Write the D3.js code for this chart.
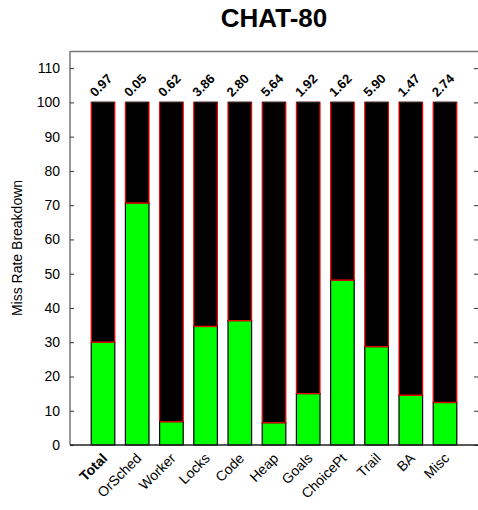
<!DOCTYPE html>
<html>
<head>
<meta charset="utf-8">
<script src="https://cdn.jsdelivr.net/npm/d3@7"></script>
<style>
body{margin:0;background:#fff;}
svg{display:block;font-family:Arial,"Liberation Sans",Helvetica,sans-serif;}
</style>
</head>
<body>
<svg id="c" width="478" height="510"></svg>
<script>
const categories = ["Total","OrSched","Worker","Locks","Code","Heap","Goals","ChoicePt","Trail","BA","Misc"];
const greenValues = [30.0,70.6,6.8,34.6,36.3,6.5,15.0,48.1,28.7,14.5,12.4];
const topLabels = ["0.97","0.05","0.62","3.86","2.80","5.64","1.92","1.62","5.90","1.47","2.74"];
const yTicks = [0,10,20,30,40,50,60,70,80,90,100,110];
const title = "CHAT-80";
const yLabel = "Miss Rate Breakdown";

(function(){
const svg = d3.select("#c");
const pL = 70, pR = 478, pT = 51, pB = 445;

const x = d3.scaleBand().domain(categories).range([pL, pR]).paddingInner(0.31).paddingOuter(0.62);
const y = d3.scaleLinear().domain([0, 115]).range([pB, pT]);

// frame
svg.append("line").attr("x1",pL).attr("x2",pR).attr("y1",pT+0.5).attr("y2",pT+0.5).attr("stroke","#777").attr("stroke-width",1.5);
svg.append("line").attr("x1",pL).attr("x2",pL).attr("y1",pT).attr("y2",pB).attr("stroke","#777").attr("stroke-width",1.5);

// left axis
const yAxis = d3.axisLeft(y).tickValues(yTicks).tickSize(-4).tickPadding(10);
const ga = svg.append("g").attr("transform",`translate(${pL},0)`).call(yAxis);
ga.select(".domain").remove();
ga.selectAll(".tick line").attr("stroke","#333");
ga.selectAll(".tick text").attr("font-size",14).attr("fill","#000").attr("font-family","Arial, Liberation Sans, sans-serif");

// right ticks
const gr = svg.append("g").attr("transform",`translate(${pR},0)`).call(d3.axisRight(y).tickValues(yTicks).tickSize(-4).tickFormat(""));
gr.select(".domain").remove();
gr.selectAll(".tick line").attr("stroke","#333");

// bars
const bars = svg.append("g");
categories.forEach((c,i)=>{
  const g = greenValues[i];
  bars.append("rect").attr("x",x(c)).attr("y",y(100)).attr("width",x.bandwidth()).attr("height",y(g)-y(100))
    .attr("fill","#000").attr("stroke","#ff0000").attr("stroke-width",1.2);
  bars.append("line").attr("x1",x(c)).attr("x2",x(c)+x.bandwidth()).attr("y1",y(100)).attr("y2",y(100)).attr("stroke","#222").attr("stroke-width",1.5);
  bars.append("rect").attr("x",x(c)).attr("y",y(g)).attr("width",x.bandwidth()).attr("height",y(0)-y(g))
    .attr("fill","#00ff00").attr("stroke","#000").attr("stroke-width",1.2);
  bars.append("line").attr("x1",x(c)).attr("x2",x(c)+x.bandwidth()).attr("y1",y(g)).attr("y2",y(g)).attr("stroke","#ff0000").attr("stroke-width",1.2);
});

// bottom axis line
svg.append("line").attr("x1",pL).attr("x2",pR).attr("y1",pB).attr("y2",pB).attr("stroke","#222").attr("stroke-width",1.5);

// top labels
categories.forEach((c,i)=>{
  svg.append("text").attr("transform",`translate(${x(c)+4},${y(100)-5}) rotate(-45)`)
    .attr("font-size",13).attr("font-weight","bold").attr("text-anchor","start").text(topLabels[i]);
});

// category labels
categories.forEach((c,i)=>{
  svg.append("text").attr("transform",`translate(${x(c)+x.bandwidth()/2-2},${pB+7}) rotate(-45)`)
    .attr("dy","0.72em").attr("font-size",14).attr("text-anchor","end")
    .attr("font-weight", i===0 ? "bold" : "normal").text(c);
});

// title
svg.append("text").attr("x",(pL+pR)/2).attr("y",27).attr("text-anchor","middle")
  .attr("font-size",26).attr("font-weight","bold").text(title);

// y label
svg.append("text").attr("transform",`translate(22,${(pT+pB)/2}) rotate(-90)`)
  .attr("text-anchor","middle").attr("font-size",14).text(yLabel);
})();
</script>
</body>
</html>
